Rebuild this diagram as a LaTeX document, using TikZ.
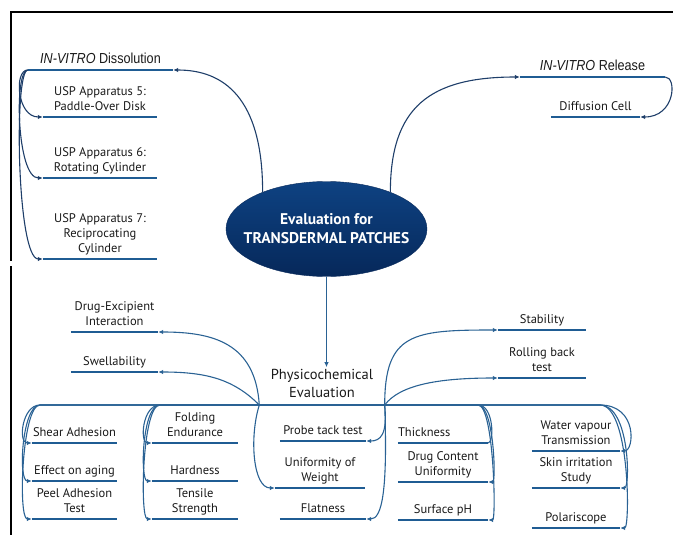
\documentclass[tikz,border=0pt]{standalone}
\usepackage{fontspec}
\setmainfont{PT Sans}
\newfontfamily\headfont[FakeStretch=0.87]{Liberation Sans}
\usetikzlibrary{shapes.geometric,arrows.meta}

\definecolor{linkblue}{RGB}{42,98,148}
\definecolor{navyline}{RGB}{30,62,105}
\definecolor{ulblue}{RGB}{31,92,147}
\definecolor{ovaltop}{RGB}{14,66,130}
\definecolor{ovalbot}{RGB}{6,40,90}
\definecolor{txt}{RGB}{25,25,25}

\newcommand\leaffont{\fontsize{12.5}{15}\selectfont}

\begin{document}
\begin{tikzpicture}[x=1pt, y=-1pt,
  uline/.style={draw=ulblue, line width=2.6pt},
  leaf/.style={font=\leaffont, text=txt, align=center, anchor=south,
    inner xsep=0pt, inner ysep=1.5pt, execute at end node=\strut,
    append after command={(\tikzlastnode.south west) edge[uline] (\tikzlastnode.south east)}},
  head/.style={font=\headfont\fontsize{14.5}{17}\selectfont},
  mainbox/.style={ellipse, minimum width=201pt, minimum height=95pt,
    inner xsep=-13pt, inner ysep=0pt,
    top color=ovaltop, bottom color=ovalbot, draw=ovalbot, text=white, align=center,
    font=\bfseries\fontsize{15.5}{19}\selectfont},
  link/.style={draw=linkblue, line width=1.1pt, -{Latex[length=5pt,width=4.5pt]}},
  ]
\useasboundingbox (0,0) rectangle (673,535);

% frame
\draw[line width=2pt] (10,12.5) -- (673,12.5);
\draw[line width=2pt] (11,12.5) -- (11,261);
\draw[line width=2pt] (11,266) -- (11,535);

\node (main)[mainbox] at (326.5,229) {Evaluation for\\TRANSDERMAL PATCHES};

\node (dis)[leaf, head, minimum width=145pt] at (100.5,70) {\textit{IN-VITRO} Dissolution};
\node (usp5)[leaf, minimum width=114pt] at (100,117) {USP Apparatus 5:\\Paddle-Over Disk};
\node (usp6)[leaf, minimum width=114pt] at (100,178) {USP Apparatus 6:\\Rotating Cylinder};
\node (usp7)[leaf, minimum width=114pt] at (100,259) {USP Apparatus 7:\\Reciprocating\\Cylinder};

\node (rel)[leaf, head, minimum width=145pt] at (592.5,77) {\textit{IN-VITRO} Release};
\node (diff)[leaf, minimum width=89pt] at (595.5,117) {Diffusion Cell};

\node (phys)[font=\fontsize{14.5}{18}\selectfont, text=txt, align=center, anchor=south,
  inner sep=2pt, minimum width=125pt] at (322,400) {Physicochemical\\Evaluation};
\coordinate (hubL) at ([yshift=-5pt]phys.south west);
\coordinate (hubR) at ([yshift=-5pt]phys.south east);

\node (drug)[leaf, minimum width=87pt] at (114.5,332) {Drug-Excipient\\Interaction};
\node (swell)[leaf, minimum width=87pt] at (114.5,372) {Swellability};
\node (shear)[leaf, minimum width=85pt] at (74.5,443) {Shear Adhesion};
\node (aging)[leaf, minimum width=85pt] at (74.5,481) {Effect on aging};
\node (peel)[leaf, minimum width=85pt] at (74.5,519) {Peel Adhesion\\Test};
\node (fold)[leaf, minimum width=86pt] at (195,443) {Folding\\Endurance};
\node (hard)[leaf, minimum width=86pt] at (195,481) {Hardness};
\node (tens)[leaf, minimum width=86pt] at (195,519) {Tensile\\Strength};
\node (probe)[leaf, minimum width=86pt] at (323,441) {Probe tack test};
\node (weight)[leaf, minimum width=90pt] at (320,488) {Uniformity of\\Weight};
\node (flat)[leaf, minimum width=86pt] at (323,519) {Flatness};
\node (thick)[leaf, text width=90pt, align=left] at (443,443) {Thickness};
\node (dcu)[leaf, minimum width=90pt] at (443,482) {Drug Content\\Uniformity};
\node (ph)[leaf, minimum width=90pt] at (443,520) {Surface pH};
\node (wvt)[leaf, minimum width=88pt] at (576,451) {Water vapour\\Transmission};
\node (skin)[leaf, minimum width=88pt] at (576,488) {Skin irritation\\Study};
\node (polar)[leaf, minimum width=88pt] at (576,528) {Polariscope};
\node (stab)[leaf, minimum width=88pt] at (542,330) {Stability};
\node (roll)[leaf, minimum width=88pt] at (542,378) {Rolling back\\test};

\coordinate (bendA) at (40,405);
\coordinate (bendB) at (160,405);
\coordinate (bendC) at (478,405);
\coordinate (bendD) at (600,405);

% in-vitro branches
\draw[link, draw=navyline] (main.150) .. controls +(0,-95) and +(50,0) .. (dis.south east);
\draw[link, draw=navyline] (main.30) .. controls +(0,-85) and +(-90,0) .. (rel.south west);
\draw[link, draw=navyline] (rel.south east) .. controls +(12,0) and +(35,0) .. (diff.south east);
\draw[link, draw=navyline] (dis.south west) .. controls +(-14,0) and +(-26,0) .. (usp5.south west);
\draw[link, draw=navyline] (dis.south west) .. controls +(-14,0) and +(-26,0) .. (usp6.south west);
\draw[link, draw=navyline] (dis.south west) .. controls +(-14,0) and +(-26,0) .. (usp7.south west);

\draw[link] (main.south) -- (main.south |- phys.north);
\draw[draw=linkblue, line width=2pt] (hubL) -- (hubR);

% physicochemical branches
\draw[link] (hubL) .. controls +(-4,-62) and +(55,0) .. (drug.south east);
\draw[link] (hubL) .. controls +(-25,-25) and +(50,0) .. (swell.south east);
\draw[link] (hubL) -- (bendA) .. controls +(-18,0) and +(-14,0) .. (shear.south west);
\draw[link] (hubL) -- (bendA) .. controls +(-18,0) and +(-14,0) .. (aging.south west);
\draw[link] (hubL) -- (bendA) .. controls +(-18,0) and +(-14,0) .. (peel.south west);
\draw[link] (hubL) -- (bendB) .. controls +(-18,0) and +(-12,0) .. (fold.south west);
\draw[link] (hubL) -- (bendB) .. controls +(-18,0) and +(-12,0) .. (hard.south west);
\draw[link] (hubL) -- (bendB) .. controls +(-18,0) and +(-12,0) .. (tens.south west);
\draw[link] (hubL) .. controls +(-10,32) and +(-22,0) .. (weight.south west);

\draw[link] (hubR) .. controls +(0,-72) and +(-85,0) .. (stab.south west);
\draw[link] (hubR) .. controls +(15,-20) and +(-60,0) .. (roll.south west);
\draw[link] (hubR) .. controls +(3,30) and +(14,0) .. (probe.south east);
\draw[link] (hubR) .. controls +(3,85) and +(16,0) .. (flat.south east);
\draw[link, -] (hubR) -- (bendC) .. controls +(16,0) and +(6,0) .. (thick.south east);
\draw[link] (hubR) -- (bendC) .. controls +(16,0) and +(8,0) .. (dcu.south east);
\draw[link] (hubR) -- (bendC) .. controls +(16,0) and +(8,0) .. (ph.south east);
\draw[link] (hubR) -- (bendD) .. controls +(38,0) and +(14,0) .. (wvt.south east);
\draw[link] (hubR) -- (bendD) .. controls +(30,0) and +(10,0) .. (skin.south east);
\draw[link] (hubR) -- (bendD) .. controls +(30,0) and +(10,0) .. (polar.south east);

\end{tikzpicture}
\end{document}
